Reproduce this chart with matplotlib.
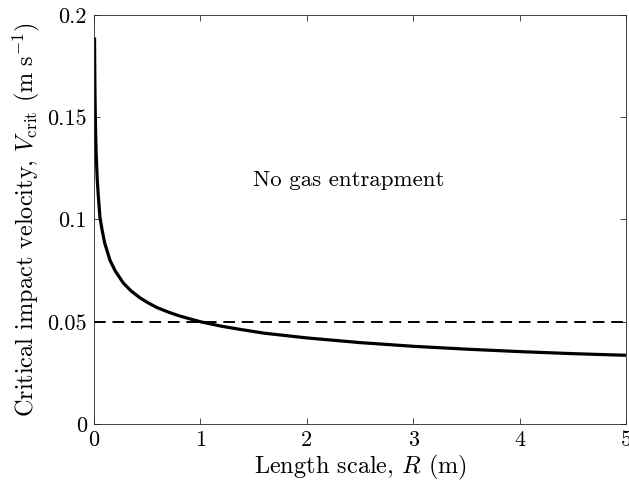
import matplotlib
matplotlib.use("Agg")
import matplotlib.pyplot as plt

plt.rcParams['font.family'] = ['cmr10', 'DejaVu Serif']
plt.rcParams['mathtext.fontset'] = 'cm'
plt.rcParams['axes.formatter.use_mathtext'] = True

# Data
R_vals = [0.005, 0.0075, 0.01, 0.015, 0.02, 0.03, 0.04, 0.056, 0.075, 0.1, 0.15,
          0.2, 0.276, 0.35, 0.432, 0.5, 0.589, 0.7, 0.8, 0.902, 1.0, 1.2, 1.37,
          1.6, 2.0, 2.5, 3.0, 3.5, 4.0, 4.5, 5.0]
V_vals = [0.189, 0.171, 0.158, 0.143, 0.133, 0.120, 0.112, 0.101, 0.0952, 0.0886,
          0.0801, 0.0748, 0.0689, 0.0650, 0.0617, 0.0595, 0.0570, 0.0547, 0.0529,
          0.0514, 0.0500, 0.0478, 0.0463, 0.0444, 0.0421, 0.0398, 0.0380, 0.0366,
          0.0354, 0.0344, 0.0336]
threshold = 0.05
x_ticks = [0, 1, 2, 3, 4, 5]
y_ticks = [0, 0.05, 0.1, 0.15, 0.2]
y_ticklabels = ['0', '0.05', '0.1', '0.15', '0.2']
annotation = 'No gas entrapment'

fig = plt.figure(figsize=(6.29, 4.90), dpi=100)
ax = fig.add_axes([94/629, 1 - 424/490, (626-94)/629, (424-15)/490])

ax.plot(R_vals, V_vals, color='black', lw=2.3, solid_capstyle='butt',
        solid_joinstyle='round')
ax.plot([x_ticks[0], x_ticks[-1]], [threshold, threshold], color='black', lw=1.4,
        linestyle=(0, (6, 3.5)))

ax.set_xlim(0, 5)
ax.set_ylim(0, 0.2)
ax.set_xticks(x_ticks)
ax.set_xticklabels([str(t) for t in x_ticks])
ax.set_yticks(y_ticks)
ax.set_yticklabels(y_ticklabels)
ax.tick_params(direction='in', top=True, right=True, labelsize=16, length=4,
               width=0.6, color='#262626', pad=5)
for s in ax.spines.values():
    s.set_color('#262626')
    s.set_linewidth(0.6)

ax.set_xlabel('Length scale, $R$ (m)', fontsize=17.5, labelpad=2)
ax.set_ylabel(r'Critical impact velocity, $V_{\rm crit}$ $(\rm m\ s^{-1})$',
              fontsize=17.5, labelpad=4)
ax.text(2.39, 0.119, annotation, ha='center', va='center', fontsize=16.5)

fig.savefig('out.png', dpi=100)
